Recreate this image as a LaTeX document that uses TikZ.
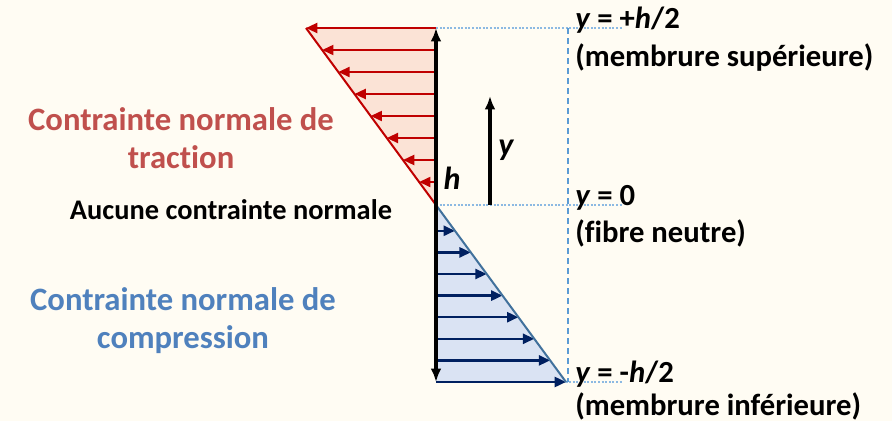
\documentclass[tikz,border=0pt]{standalone}
\usepackage{fontspec}
\setmainfont[Ligatures=NoCommon]{Carlito}
\usepackage{tikz}
\usetikzlibrary{arrows.meta}
\definecolor{bgcream}{HTML}{FFFCF3}
\definecolor{tractred}{HTML}{C00000}
\definecolor{tractfill}{HTML}{FBE3D6}
\definecolor{tracttext}{HTML}{C0504D}
\definecolor{compnavy}{HTML}{002060}
\definecolor{compedge}{HTML}{41719C}
\definecolor{compfill}{HTML}{DAE3F3}
\definecolor{comptext}{HTML}{4F81BD}
\definecolor{guideblue}{HTML}{5B9BD5}
\tikzset{
    tractarrow/.style={draw=tractred, line width=1.6pt, -{Triangle[length=8.5pt, width=7.5pt]}},
    comparrow/.style={draw=compnavy, line width=1.8pt, -{Triangle[length=8.5pt, width=7.5pt]}},
    axisarrow/.style={line width=2.6pt, {Latex[length=10pt, width=8pt]}-{Latex[length=10pt, width=8pt]}},
    yarrow/.style={line width=2.4pt, -{Latex[length=10pt, width=8pt]}},
    guideline/.style={draw=guideblue, line width=0.9pt, dash pattern=on 4.5pt off 3pt},
    levelline/.style={draw=guideblue!70, line width=0.9pt, dash pattern=on 1.5pt off 1.2pt},
    bigtext/.style={align=center, font=\fontsize{24.5}{28.5}\selectfont\bfseries},
    levellabel/.style={anchor=base west, inner sep=0pt, font=\fontsize{23}{27}\selectfont\bfseries},
    varlabel/.style={inner sep=0pt, font=\fontsize{24}{28}\selectfont\bfseries\itshape}
}

\begin{document}
\begin{tikzpicture}[x=0.75pt, y=-0.75pt]
    \fill[bgcream] (0,0) rectangle (892,421);

    % key points of the section
    \coordinate (top) at (436,28);
    \coordinate (neutral) at (436,205);
    \coordinate (bottom) at (436,382);
    \coordinate (tracttip) at (306,28);
    \coordinate (comptip) at (566,382);
    \coordinate (guidetop) at (568,28);
    \coordinate (guidebottom) at (568,382);

    % stress blocks
    \fill[tractfill] (top) -- (tracttip) -- (neutral) -- cycle;
    \fill[compfill] (neutral) -- (comptip) -- (bottom) -- cycle;

    % guide lines
    \draw[levelline] (top) -- (622,28);
    \draw[levelline] (neutral) -- (622,205);
    \draw[levelline] (bottom) -- (622,382);
    \draw[guideline] (guidetop) -- (guidebottom);

    % traction arrows
    \foreach \k in {0,...,7} {
        \pgfmathsetmacro{\ya}{28+22*\k}
        \pgfmathsetmacro{\xa}{306+(\ya-28)/177*130}
        \draw[tractarrow] (436,\ya) -- (\xa,\ya);
    }
    \draw[tractred, line width=1.5pt] (tracttip) -- (neutral);

    % compression arrows
    \foreach \k in {0,...,7} {
        \pgfmathsetmacro{\yb}{382-21.6*\k}
        \pgfmathsetmacro{\xb}{436+(\yb-205)/177*130}
        \draw[comparrow] (436,\yb) -- (\xb,\yb);
    }
    \draw[compedge, line width=1.5pt] (neutral) -- (comptip);

    % height and y
    \draw[axisarrow] (bottom) -- (top);
    \coordinate (ystart) at (490,205);
    \coordinate (yend) at (490,96);
    \draw[yarrow] (ystart) -- (yend);
    \node (hlabel) [varlabel] at (452,178) {h};
    \node (ylabel) [varlabel] at (506,150) {y};

    % left texts
    \node (tractlabel) [bigtext, text=tracttext] at (181,138) {Contrainte normale de\\traction};
    \node (nonelabel) [anchor=base, inner sep=0pt, font=\fontsize{21.3}{25}\selectfont\bfseries] at (231,219) {Aucune contrainte normale};
    \node (complabel) [bigtext, text=comptext] at (183,321) {Contrainte normale de\\compression};

    % right texts
    \node (toplevel) [levellabel] at (575,28) {\textit{y} = +\textit{h}/2};
    \node (topnote) [levellabel] at (575,66) {(membrure supérieure)};
    \node (midlevel) [levellabel] at (575,205) {\textit{y} = 0};
    \node (midnote) [levellabel] at (575,242) {(fibre neutre)};
    \node (botlevel) [levellabel] at (575,382) {\textit{y} = -\textit{h}/2};
    \node (botnote) [levellabel] at (575,415) {(membrure inférieure)};
\end{tikzpicture}
\end{document}
